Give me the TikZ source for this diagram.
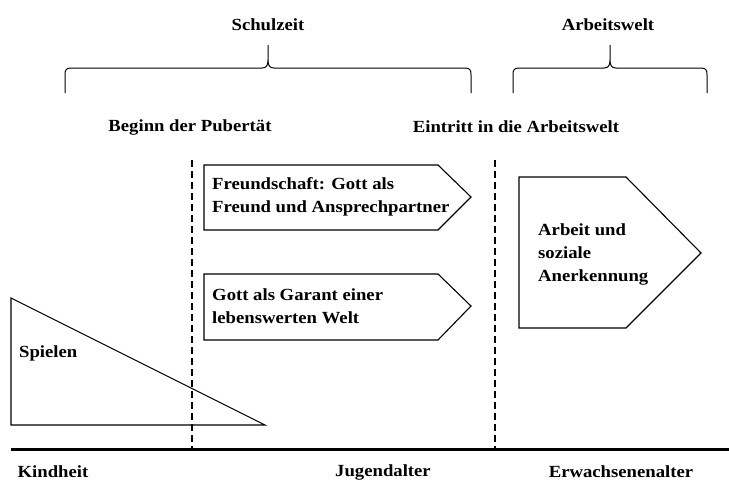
\documentclass[tikz,border=0pt]{standalone}
\usepackage{fontspec}
\setmainfont{Liberation Serif}[BoldFeatures={FakeStretch=1.1}]
\begin{document}
\begin{tikzpicture}[x=1pt,y=-1pt,
  lbl/.style={font=\fontsize{17}{23}\selectfont\bfseries, inner sep=0pt},
  boxtxt/.style={font=\fontsize{17}{23}\selectfont\bfseries, inner sep=0pt, align=left, anchor=west},
  shp/.style={draw, line width=1.1pt, line join=miter},
  brc/.style={draw, line width=1pt},
  sep/.style={draw, dashed, line width=1.6pt, dash pattern=on 7pt off 4pt},
  axis/.style={draw, line width=3pt}]
\useasboundingbox (0,0) rectangle (729,485);
% braces
\path[brc] (65,93) -- (65,75) .. controls (65,70) and (66,68) .. (71,68) -- (262,68) .. controls (266,68) and (268,66) .. (268,60) -- (268,45)
  (268,45) -- (268,60) .. controls (268,66) and (270,68) .. (274,68) -- (465,68) .. controls (470,68) and (471,70) .. (471,75) -- (471,93);
\path[brc] (513,93) -- (513,75) .. controls (513,70) and (514,68) .. (519,68) -- (604,68) .. controls (608,68) and (610,66) .. (610,60) -- (610,45)
  (610,45) -- (610,60) .. controls (610,66) and (612,68) .. (616,68) -- (701,68) .. controls (706,68) and (707,70) .. (707,75) -- (707,93);
\node[lbl] (schul) at (268,25) {Schulzeit};
\node[lbl] (arbw) at (608,25) {Arbeitswelt};
\node[lbl] (pub) at (190,127) {Beginn der Pubertät};
\node[lbl] (eintr) at (516,127) {Eintritt in die Arbeitswelt};
% dashed separators
\coordinate (d1t) at (192,160); \coordinate (d1b) at (192,448);
\coordinate (d2t) at (495,160); \coordinate (d2b) at (495,448);
\path[sep] (d1t) -- (d1b);
\path[sep] (d2t) -- (d2b);
% triangle
\path[shp] (11,298) -- (11,425) -- (265,425) -- cycle;
\node[lbl, anchor=west] (spiel) at (19,353) {Spielen};
% pentagon arrows
\path[shp] (204,165) -- (438,165) -- (471,197) -- (438,230) -- (204,230) -- cycle;
\node[boxtxt] (freund) at (212,197) {Freundschaft: Gott als\\Freund und Ansprechpartner};
\path[shp] (204,274) -- (438,274) -- (471,306) -- (438,340) -- (204,340) -- cycle;
\node[boxtxt] (garant) at (212,306) {Gott als Garant einer\\lebenswerten Welt};
\path[shp] (519,177) -- (626,177) -- (701,253) -- (626,328) -- (519,328) -- cycle;
\node[boxtxt] (arbeit) at (538,254) {Arbeit und\\soziale\\Anerkennung};
% axis
\coordinate (ax0) at (11,449); \coordinate (ax1) at (729,449);
\path[axis] (ax0) -- (ax1);
\node[lbl] (kind) at (53,472) {Kindheit};
\node[lbl] (jug) at (383,472) {Jugendalter};
\node[lbl] (erw) at (621,472) {Erwachsenenalter};
\end{tikzpicture}
\end{document}
